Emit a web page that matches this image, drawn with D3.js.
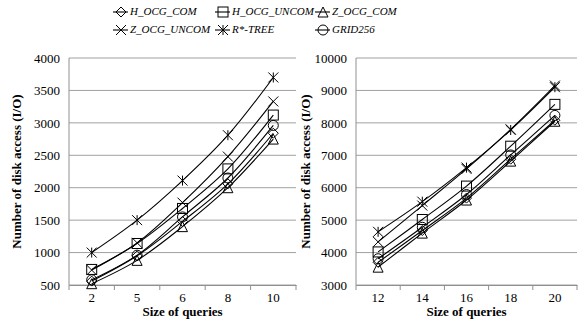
<!DOCTYPE html>
<html>
<head>
<meta charset="utf-8">
<script src="https://cdn.jsdelivr.net/npm/d3@7"></script>
<style>
  body { margin: 0; background: white; }
  svg { display: block; }
  text { font-family: "Liberation Serif", "Times New Roman", Tinos, "DejaVu Serif", serif; }
</style>
</head>
<body>
<div id="chart"></div>
<script>
// Disk access comparison, two panels side by side
const seriesNames = ["H_OCG_COM", "H_OCG_UNCOM", "Z_OCG_COM", "Z_OCG_UNCOM", "R*-TREE", "GRID256"];
const markerTypes = ["diamond", "square", "triangle", "x", "asterisk", "circle"];

const leftSizes = ["2", "5", "6", "8", "10"];
const leftTicks = [500, 1000, 1500, 2000, 2500, 3000, 3500, 4000];
const leftHOcgCom = [560, 950, 1480, 2060, 2840];
const leftHOcgUncom = [740, 1140, 1680, 2290, 3120];
const leftZOcgCom = [520, 880, 1400, 2000, 2750];
const leftZOcgUncom = [730, 1150, 1770, 2480, 3330];
const leftRTree = [1000, 1500, 2110, 2810, 3700];
const leftGrid = [580, 960, 1550, 2150, 2960];

const rightSizes = ["12", "14", "16", "18", "20"];
const rightTicks = [3000, 4000, 5000, 6000, 7000, 8000, 9000, 10000];
const rightHOcgCom = [3700, 4680, 5680, 6880, 8080];
const rightHOcgUncom = [4020, 5020, 6050, 7280, 8570];
const rightZOcgCom = [3550, 4600, 5620, 6820, 8050];
const rightZOcgUncom = [4330, 5450, 6580, 7800, 9150];
const rightRTree = [4640, 5570, 6620, 7780, 9100];
const rightGrid = [3810, 4780, 5790, 7010, 8230];

const width = 586;
const height = 324;
const font = '"Liberation Serif", "Times New Roman", Tinos, "DejaVu Serif", serif';

const svg = d3
  .select("#chart")
  .append("svg")
  .attr("width", width)
  .attr("height", height);

// marker drawing, centred on 0,0
function drawMarker(g, type) {
  const s = 5;
  if (type === "diamond") {
    g.append("path").attr("d", `M0,${-s}L${s},0L0,${s}L${-s},0Z`);
  } else if (type === "square") {
    g.append("rect").attr("x", -s).attr("y", -s).attr("width", 2 * s).attr("height", 2 * s);
  } else if (type === "triangle") {
    g.append("path").attr("d", `M0,${-s}L${s},${s}L${-s},${s}Z`);
  } else if (type === "circle") {
    g.append("circle").attr("r", s);
  } else if (type === "x") {
    g.append("path").attr("d", `M${-s},${-s}L${s},${s}M${-s},${s}L${s},${-s}`);
  } else if (type === "asterisk") {
    g.append("path").attr("d", `M${-s},${-s}L${s},${s}M${-s},${s}L${s},${-s}M0,${-s}L0,${s}`);
  }
  g.attr("fill", "none").attr("stroke", "black").attr("stroke-width", 1);
}

function panel(opts) {
  const { x0, x1, y0, y1, sizes, ticks, series, titleX } = opts;

  const x = d3.scaleBand().domain(sizes).range([x0, x1]);
  const y = d3
    .scaleLinear()
    .domain([ticks[0], ticks[ticks.length - 1]])
    .range([y1, y0]);

  const g = svg.append("g");

  // gridlines
  g.append("g")
    .selectAll("line")
    .data(ticks)
    .enter()
    .append("line")
    .attr("x1", x0)
    .attr("x2", x1)
    .attr("y1", (d) => y(d))
    .attr("y2", (d) => y(d))
    .attr("stroke", "#a0a0a0")
    .attr("stroke-width", 1);

  // y axis line
  g.append("line")
    .attr("x1", x0)
    .attr("x2", x0)
    .attr("y1", y0)
    .attr("y2", y1)
    .attr("stroke", "#909090");

  // x axis with tick marks at band edges
  const xAxis = d3.axisBottom(x).tickSize(0).tickPadding(8);
  const xg = g.append("g").attr("transform", `translate(0,${y1})`).call(xAxis);
  xg.select(".domain").attr("stroke", "#909090");
  xg.selectAll("text")
    .style("font-family", font)
    .style("font-size", "13px")
    .attr("fill", "black");
  g.selectAll(".xtick")
    .data(sizes)
    .enter()
    .append("line")
    .attr("x1", (d) => x(d) + x.bandwidth())
    .attr("x2", (d) => x(d) + x.bandwidth())
    .attr("y1", y1)
    .attr("y2", y1 + 5)
    .attr("stroke", "#909090");
  g.append("line")
    .attr("x1", x0)
    .attr("x2", x0)
    .attr("y1", y1)
    .attr("y2", y1 + 5)
    .attr("stroke", "#909090");

  // y tick labels
  const yAxis = d3.axisLeft(y).tickValues(ticks).tickSize(0).tickPadding(9).tickFormat(d3.format("d"));
  const yg = g.append("g").attr("transform", `translate(${x0},0)`).call(yAxis);
  yg.select(".domain").remove();
  yg.selectAll("text")
    .style("font-family", font)
    .style("font-size", "13px")
    .attr("fill", "black");

  // axis titles
  g.append("text")
    .attr("x", (x0 + x1) / 2)
    .attr("y", y1 + 31)
    .attr("text-anchor", "middle")
    .style("font-family", font)
    .style("font-size", "13px")
    .style("font-weight", "bold")
    .text("Size of queries");

  g.append("text")
    .attr("transform", `translate(${titleX},${(y0 + y1) / 2}) rotate(-90)`)
    .attr("text-anchor", "middle")
    .attr("dominant-baseline", "middle")
    .style("font-family", font)
    .style("font-size", "13px")
    .style("font-weight", "bold")
    .text("Number of disk access (I/O)");

  const line = d3
    .line()
    .x((d, i) => x(sizes[i]) + x.bandwidth() / 2)
    .y((d) => y(d))
    .curve(d3.curveCatmullRom.alpha(0.5));

  series.forEach((vals, si) => {
    g.append("path")
      .attr("d", line(vals))
      .attr("fill", "none")
      .attr("stroke", "black")
      .attr("stroke-width", 1.1);
    vals.forEach((v, i) => {
      const m = g
        .append("g")
        .attr("transform", `translate(${x(sizes[i]) + x.bandwidth() / 2},${y(v)})`);
      drawMarker(m, markerTypes[si]);
    });
  });
}

panel({
  x0: 69,
  x1: 296,
  y0: 58,
  y1: 285,
  sizes: leftSizes,
  ticks: leftTicks,
  series: [leftHOcgCom, leftHOcgUncom, leftZOcgCom, leftZOcgUncom, leftRTree, leftGrid],
  titleX: 18,
});

panel({
  x0: 356,
  x1: 577,
  y0: 58,
  y1: 285,
  sizes: rightSizes,
  ticks: rightTicks,
  series: [rightHOcgCom, rightHOcgUncom, rightZOcgCom, rightZOcgUncom, rightRTree, rightGrid],
  titleX: 307,
});

// legend, 3 columns x 2 rows
const legendCols = [113, 215, 315];
const legendRows = [12, 30];
const legend = svg
  .append("g")
  .selectAll("g")
  .data(seriesNames)
  .enter()
  .append("g")
  .attr("transform", (d, i) => `translate(${legendCols[i % 3]},${legendRows[Math.floor(i / 3)]})`);

legend
  .append("line")
  .attr("x1", 0)
  .attr("x2", 15)
  .attr("y1", 0)
  .attr("y2", 0)
  .attr("stroke", "black")
  .attr("stroke-width", 1.1);

legend.each(function (d, i) {
  const m = d3.select(this).append("g").attr("transform", "translate(8,0)");
  drawMarker(m, markerTypes[i]);
});

legend
  .append("text")
  .attr("x", 17)
  .attr("y", 0)
  .attr("dominant-baseline", "middle")
  .style("font-family", font)
  .style("font-size", "11px")
  .style("font-style", "italic")
  .text((d) => d);
</script>
</body>
</html>
